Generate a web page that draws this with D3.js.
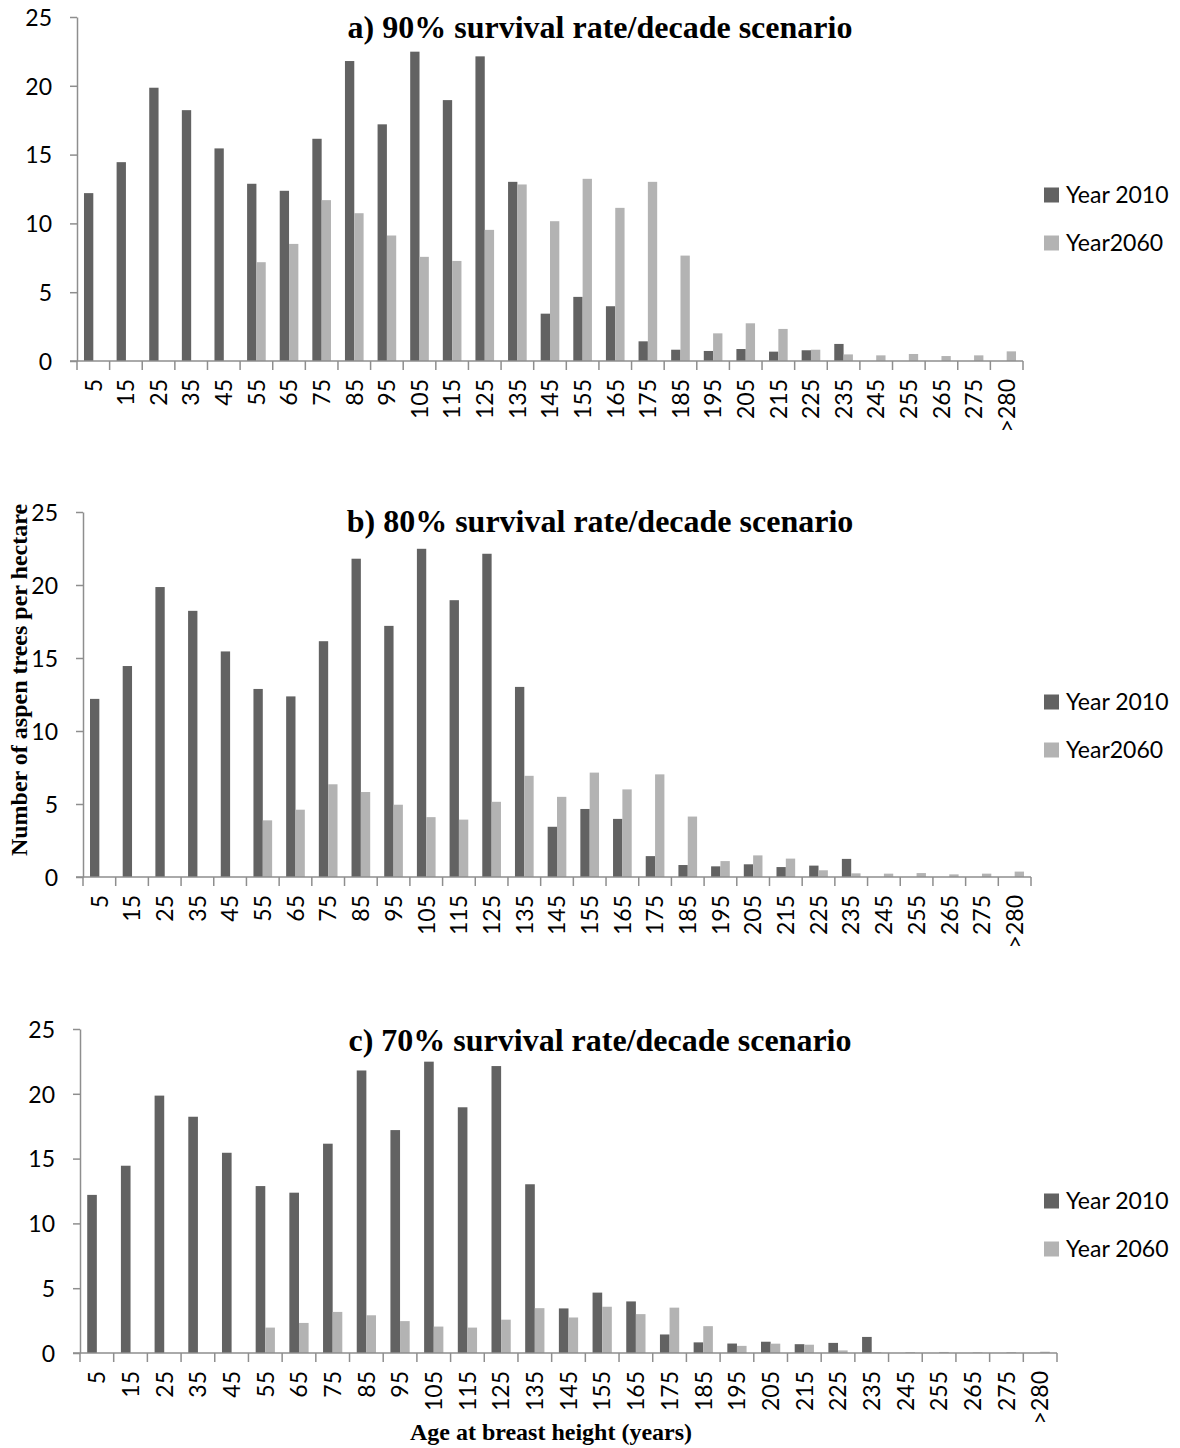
<!DOCTYPE html>
<html>
<head>
<meta charset="utf-8">
<script src="https://cdn.jsdelivr.net/npm/d3@7"></script>
<style>
  body { margin: 0; background: #fff; }
  svg { display: block; }
  .tick text { font-family: Lato, "Open Sans", sans-serif; font-size: 23px; fill: #000; }
</style>
</head>
<body>
<svg width="1180" height="1448"></svg>
<script>
// age classes (years at breast height)
var ages = ['5','15','25','35','45','55','65','75','85','95','105','115','125','135','145',
            '155','165','175','185','195','205','215','225','235','245','255','265','275','>280'];

// trees per hectare, year 2010 (same in all scenarios)
var year2010 = [12.2,14.45,19.86,18.23,15.45,12.88,12.37,16.15,21.8,17.2,22.48,18.96,22.14,13.02,3.44,
                4.66,3.98,1.43,0.82,0.73,0.87,0.68,0.78,1.24,0,0,0,0,0];

// year 2060 under each scenario
var year2060a = [0,0,0,0,0,7.18,8.51,11.69,10.74,9.12,7.57,7.27,9.53,12.83,10.16,
                 13.24,11.13,13.02,7.66,2.01,2.74,2.33,0.82,0.48,0.41,0.51,0.36,0.41,0.7];
var year2060b = [0,0,0,0,0,3.88,4.61,6.35,5.82,4.95,4.1,3.93,5.15,6.93,5.49,
                 7.15,6.0,7.03,4.14,1.09,1.48,1.26,0.46,0.25,0.23,0.27,0.18,0.23,0.37];
var year2060c = [0,0,0,0,0,1.96,2.32,3.17,2.91,2.46,2.04,1.96,2.57,3.46,2.74,
                 3.57,3.0,3.5,2.07,0.55,0.72,0.64,0.2,0.06,0.06,0.08,0.05,0.06,0.1];

var yTicks = [0, 5, 10, 15, 20, 25];

var titles = ['a) 90% survival rate/decade scenario',
              'b) 80% survival rate/decade scenario',
              'c) 70% survival rate/decade scenario'];
var legendA = ['Year 2010', 'Year2060'];
var legendC = ['Year 2010', 'Year 2060'];

var dark = '#626262', light = '#b3b3b3', axisCol = '#8e8e8e';

var panels = [
  {left: 77, right: 1023, top: 17,   bottom: 361,  titleY: 38,   legY: 195,  s2060: year2060a, leg: legendA, title: titles[0]},
  {left: 83, right: 1031, top: 512,  bottom: 877,  titleY: 532,  legY: 702,  s2060: year2060b, leg: legendA, title: titles[1]},
  {left: 80, right: 1057, top: 1029, bottom: 1353, titleY: 1051, legY: 1201, s2060: year2060c, leg: legendC, title: titles[2]}
];

var svg = d3.select('svg');

panels.forEach(function(p) {
  var g = svg.append('g');

  var x = d3.scaleBand().domain(ages).range([p.left, p.right]).padding(0);
  var y = d3.scaleLinear().domain([0, 25]).range([p.bottom, p.top]);
  var bw = x.bandwidth() / 3.5;

  // bars
  g.selectAll('rect.d').data(year2010).enter().append('rect')
      .attr('x', function(d, i) { return x(ages[i]) + x.bandwidth() / 2 - bw; })
      .attr('y', function(d) { return y(d); })
      .attr('width', bw)
      .attr('height', function(d) { return y(0) - y(d); })
      .style('fill', dark);

  g.selectAll('rect.l').data(p.s2060).enter().append('rect')
      .attr('x', function(d, i) { return x(ages[i]) + x.bandwidth() / 2; })
      .attr('y', function(d) { return y(d); })
      .attr('width', bw)
      .attr('height', function(d) { return y(0) - y(d); })
      .style('fill', light);

  // y axis
  var ya = g.append('g')
      .attr('transform', 'translate(' + p.left + ',0)')
      .call(d3.axisLeft(y).tickValues(yTicks).tickSize(7).tickPadding(18).tickSizeOuter(0));
  ya.select('.domain').attr('stroke', axisCol).attr('stroke-width', 1.5);
  ya.selectAll('.tick line').attr('stroke', axisCol).attr('stroke-width', 1.5);
  ya.selectAll('.tick text').attr('dy', '0.36em');

  // x axis: ticks at category boundaries
  var xa = g.append('g').attr('transform', 'translate(0,' + p.bottom + ')');
  xa.append('line')
      .attr('x1', p.left - 7).attr('x2', p.right)
      .attr('stroke', axisCol).attr('stroke-width', 1.5);
  var bounds = ages.map(function(a) { return x(a); }).concat([p.right]);
  xa.selectAll('line.tk').data(bounds).enter().append('line')
      .attr('x1', function(d) { return d; }).attr('x2', function(d) { return d; })
      .attr('y1', 0).attr('y2', 9)
      .attr('stroke', axisCol).attr('stroke-width', 1.5);
  xa.selectAll('text').data(ages).enter().append('text')
      .attr('transform', function(d) { return 'translate(' + (x(d) + x.bandwidth() / 2) + ',18) rotate(-90)'; })
      .attr('text-anchor', 'end')
      .attr('dy', '0.36em')
      .style('font-family', 'Lato, "Open Sans", sans-serif')
      .style('font-size', '23px')
      .text(function(d) { return d; });

  // title
  g.append('text')
      .attr('x', 600).attr('y', p.titleY)
      .attr('text-anchor', 'middle')
      .style('font-family', '"Liberation Serif", "Times New Roman", serif')
      .style('font-weight', 'bold')
      .style('font-size', '32px')
      .text(p.title);

  // legend
  var lg = g.append('g').attr('transform', 'translate(1044,' + p.legY + ')');
  [dark, light].forEach(function(c, i) {
    lg.append('rect').attr('x', 0).attr('y', i * 48 - 7.5).attr('width', 15).attr('height', 15).style('fill', c);
    lg.append('text').attr('x', 22).attr('y', i * 48).attr('dy', '0.36em')
        .style('font-family', 'Lato, "Open Sans", sans-serif')
        .style('font-size', '23px')
        .text(p.leg[i]);
  });
});

// axis titles
svg.append('text')
    .attr('transform', 'translate(27,680) rotate(-90)')
    .attr('text-anchor', 'middle')
    .style('font-family', '"Liberation Serif", "Times New Roman", serif')
    .style('font-weight', 'bold')
    .style('font-size', '24px')
    .text('Number of aspen trees per hectare');

svg.append('text')
    .attr('x', 551).attr('y', 1440)
    .attr('text-anchor', 'middle')
    .style('font-family', '"Liberation Serif", "Times New Roman", serif')
    .style('font-weight', 'bold')
    .style('font-size', '24px')
    .text('Age at breast height (years)');
</script>
</body>
</html>
